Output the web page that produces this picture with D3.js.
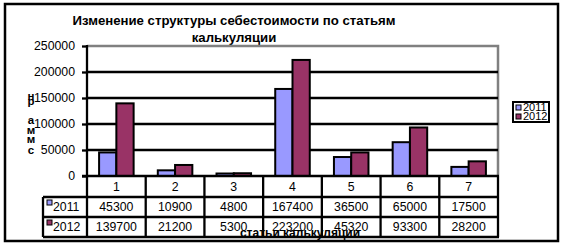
<!DOCTYPE html>
<html><head><meta charset="utf-8">
<script src="https://cdn.jsdelivr.net/npm/d3@7"></script>
<style>body{margin:0;background:#fff}svg{display:block}text{font-family:"Liberation Sans",Arial,sans-serif}</style>
</head><body><svg id="c" width="563" height="248"></svg>
<script>
const categories = ["1","2","3","4","5","6","7"];
const seriesNames = ["2011","2012"];
const values2011 = [45300,10900,4800,167400,36500,65000,17500];
const values2012 = [139700,21200,5300,223200,45320,93300,28200];
const yTicks = [0,50000,100000,150000,200000,250000];
const titleLines = ["Изменение структуры себестоимости по статьям","калькуляции"];
const xTitle = "статьи калькуляции";
const yTitleLetters = ["н","р","а","м","м","с"];
const colors = ["#9999FF","#993366"];
const series = [values2011, values2012];

const svg = d3.select("#c");
const L = 87, R = 498, T = 46, B = 176;
const x = d3.scaleBand().domain(categories).range([L, R]).padding(0);
const xs = d3.scaleBand().domain(seriesNames).range([0, x.bandwidth()]).paddingInner(0).paddingOuter(0.7);
const y = d3.scaleLinear().domain([0, 250000]).range([B, T]);

// outer border
svg.append("rect").attr("x",5).attr("y",4).attr("width",553).attr("height",237)
  .attr("fill","#fff").attr("stroke","#000").attr("stroke-width",2.5);

// title
const tt = svg.append("text").attr("text-anchor","middle").attr("font-weight","bold").attr("font-size",13.2);
titleLines.forEach((t,i)=>tt.append("tspan").attr("x",234).attr("y",25+i*17).text(t));

// plot border (gray)
svg.append("path").attr("d",`M${L},${T}H${R}V${B}`).attr("fill","none").attr("stroke","#808080").attr("stroke-width",2.5);

// gridlines
svg.append("g").selectAll("line").data(yTicks.filter(v=>v>0 && v<250000)).join("line")
  .attr("x1",L).attr("x2",R).attr("y1",d=>y(d)).attr("y2",d=>y(d))
  .attr("stroke","#000").attr("stroke-width",2.3);

// bars
seriesNames.forEach((s,si)=>{
  svg.append("g").selectAll("rect").data(series[si]).join("rect")
    .attr("x",(d,i)=>x(categories[i])+xs(s))
    .attr("y",d=>y(d))
    .attr("width",xs.bandwidth())
    .attr("height",d=>B-y(d))
    .attr("fill",colors[si]).attr("stroke","#000").attr("stroke-width",2);
});

// y axis
const yAxis = d3.axisLeft(y).tickValues(yTicks).tickSize(5).tickFormat(d3.format("d"));
const ga = svg.append("g").attr("transform",`translate(${L},0)`).call(yAxis);
ga.select(".domain").remove();
ga.selectAll(".tick line").attr("stroke","#000").attr("stroke-width",2.3);
ga.selectAll(".tick text").attr("font-size",12.3).attr("fill","#000").attr("font-family","'Liberation Sans',Arial,sans-serif").attr("x",-12);
svg.append("line").attr("x1",L).attr("x2",L).attr("y1",T-1).attr("y2",237).attr("stroke","#000").attr("stroke-width",2.3);

// baseline
svg.append("line").attr("x1",L-5).attr("x2",R+1).attr("y1",B).attr("y2",B).attr("stroke","#000").attr("stroke-width",2.3);

// y title stacked letters
const yLetterY = [100,105,124,134,143,154];
svg.append("g").selectAll("text").data(yTitleLetters).join("text")
  .attr("x",31).attr("y",(d,i)=>yLetterY[i]).attr("text-anchor","middle")
  .attr("font-weight","bold").attr("font-size",11.5).text(d=>d);

// data table
const tl = 43;
const tg = svg.append("g");
[197,217,237].forEach(yy=>tg.append("line").attr("x1",tl).attr("x2",R+1).attr("y1",yy).attr("y2",yy).attr("stroke","#000").attr("stroke-width",2.3));
tg.append("line").attr("x1",tl).attr("x2",tl).attr("y1",197).attr("y2",237).attr("stroke","#000").attr("stroke-width",2.3);
tg.selectAll("line.v").data(categories).join("line").attr("class","v")
  .attr("x1",d=>x(d)+x.bandwidth()).attr("x2",d=>x(d)+x.bandwidth())
  .attr("y1",B).attr("y2",237).attr("stroke","#000").attr("stroke-width",2.3);
tg.selectAll("text.c").data(categories).join("text").attr("class","c")
  .attr("x",d=>x(d)+x.bandwidth()/2).attr("y",191).attr("text-anchor","middle").attr("font-size",12.3).text(d=>d);
seriesNames.forEach((s,si)=>{
  tg.selectAll("text.s"+si).data(series[si]).join("text").attr("class","s"+si)
    .attr("x",(d,i)=>x(categories[i])+x.bandwidth()/2).attr("y",[211,231][si])
    .attr("text-anchor","middle").attr("font-size",12.3).text(d=>d);
  tg.append("rect").attr("x",47).attr("y",[204,224][si]-4).attr("width",5).attr("height",5)
    .attr("fill",colors[si]).attr("stroke","#000").attr("stroke-width",1);
  tg.append("text").attr("x",53).attr("y",[211,231][si]).attr("font-size",12.3).text(s);
});

// x title
svg.append("text").attr("x",300).attr("y",237).attr("text-anchor","middle")
  .attr("font-weight","bold").attr("font-size",12).text(xTitle);

// legend
const lg = svg.append("g");
lg.append("rect").attr("x",513).attr("y",102).attr("width",36).attr("height",20)
  .attr("fill","#fff").attr("stroke","#000").attr("stroke-width",2);
seriesNames.forEach((s,si)=>{
  lg.append("rect").attr("x",516).attr("y",105+si*9).attr("width",5).attr("height",5)
    .attr("fill",colors[si]).attr("stroke","#000").attr("stroke-width",1);
  lg.append("text").attr("x",523).attr("y",111+si*9).attr("font-size",11).text(s);
});
</script></body></html>
